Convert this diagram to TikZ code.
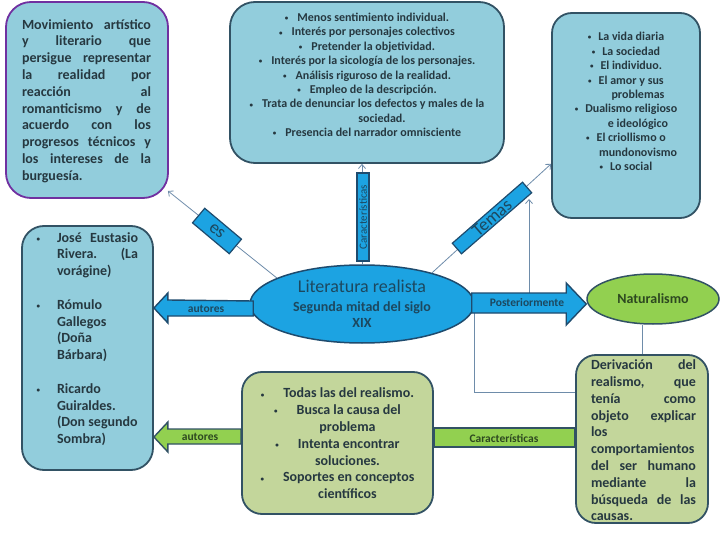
\documentclass[tikz,border=0pt]{standalone}
\usepackage{fontspec}
\setmainfont{Carlito}
\usetikzlibrary{shapes.geometric,arrows.meta,calc,backgrounds}
\definecolor{boxblue}{RGB}{146,205,220}
\definecolor{edgec}{RGB}{50,82,100}
\definecolor{brightblue}{RGB}{28,163,226}
\definecolor{litedge}{RGB}{30,75,110}
\definecolor{greenbar}{RGB}{146,208,80}
\definecolor{olivebox}{RGB}{195,214,155}
\definecolor{purp}{RGB}{112,48,160}
\definecolor{txtc}{RGB}{38,56,64}
\definecolor{tealtxt}{RGB}{28,72,95}
\definecolor{greentxt}{RGB}{45,72,32}
\definecolor{thinc}{RGB}{110,140,170}
\newcommand{\smbul}{\raisebox{0.9pt}{\fontsize{7}{7}\selectfont\textbullet}}
\newcommand{\mybul}[1]{\smbul\hspace{#1}}
\begin{document}
\begin{tikzpicture}[x=1pt,y=-1pt,
  box/.style={draw=edgec, line width=1.8pt, rounded corners=22pt, fill=boxblue, inner sep=0pt},
  gbox/.style={box, fill=olivebox, rounded corners=20pt},
  txtnode/.style={inner sep=0pt, text=txtc},
  tagbox/.style={fill=brightblue, draw=litedge, line width=1.2pt, inner sep=0pt, text=tealtxt},
  blockb/.style={fill=brightblue, draw=litedge, line width=1.4pt, line join=miter},
  blockg/.style={fill=greenbar, draw=edgec, line width=1.4pt, line join=miter},
  thinline/.style={draw=thinc, line width=0.8pt},
  thinarrow/.style={thinline, -{Straight Barb[length=4pt,width=7pt]}},
  lbl/.style={inner sep=0pt, font=\bfseries\fontsize{11.5}{13}\selectfont}
]
\useasboundingbox (0,0) rectangle (720,540);
\begin{pgfonlayer}{background}
\fill[white] (0,0) rectangle (720,540);
\end{pgfonlayer}

% boxes
\node[box, draw=purp, rounded corners=25pt, minimum width=162pt, minimum height=196pt] (B1) at (87,100) {};
\node[box, rounded corners=25pt, minimum width=274pt, minimum height=161pt] (B2) at (367,82.5) {};
\node[box, rounded corners=20pt, minimum width=148pt, minimum height=205pt] (B3) at (626,115.5) {};
\node[box, minimum width=131pt, minimum height=244pt] (L) at (87.5,348) {};
\node[gbox, minimum width=191pt, minimum height=142pt] (G) at (337.5,443) {};
\node[gbox, minimum width=132pt, minimum height=168pt] (D) at (642,439) {};

% central ellipse
\node[ellipse, draw=litedge, line width=1.5pt, fill=brightblue, minimum width=224pt, minimum height=78pt, inner sep=0pt, align=center, text=tealtxt, font=\bfseries\fontsize{14}{16}\selectfont] (lit) at (362,304)
  {{\mdseries\fontsize{18}{20}\selectfont Literatura realista}\\[3pt] Segunda mitad del siglo\\ XIX};
\node[ellipse, draw=edgec, line width=1.5pt, fill=greenbar, minimum width=132pt, minimum height=50pt, inner sep=0pt, text=greentxt, font=\bfseries\fontsize{14}{16}\selectfont] (Nat) at (653,299) {Naturalismo};

% thin connectors (under everything)
\coordinate (y392) at (0,392);
\coordinate (pstart) at (529,293);
\coordinate (pend) at (529,199);
\begin{pgfonlayer}{background}
\draw[thinline] (lit.east) -- (lit.east |- y392) -- (D.west |- y392);
\draw[thinline] (Nat.south -| D.north) -- (D.north);
\draw[thinarrow] (pstart) -- (pend);
\draw[thinarrow] (lit.163) -- ($(B1.south east)+(-1,-8)$);
\draw[thinarrow] (lit.north) -- (lit.north |- B2.south);
\draw[thinarrow] (lit.24) -- ($(B3.south west)+(0,-55)$);
\end{pgfonlayer}

% block arrows
\coordinate (yA) at (0,308);
\coordinate (yP) at (0,304);
\coordinate (yG) at (0,437);
\draw[blockb] (L.east |- yA) -- ++(14,-15) -- ++(0,7) -- ($(lit.west |- yA)+(4,-7)$) -- ++(0,15) -- ($(L.east |- yA)+(14,8)$) -- ++(0,7) -- cycle;
\draw[blockb] (Nat.west |- yP) -- ++(-20,-21) -- ++(0,10) -- ($(lit.east |- yP)+(-3,-11)$) -- ++(0,20) -- ($(Nat.west |- yP)+(-20,9)$) -- ++(0,12) -- cycle;
\draw[blockg] (L.east |- yG) -- ++(14,-15) -- ++(0,7) -- ($(G.west |- yG)+(0,-8)$) -- ++(0,15) -- ($(L.east |- yG)+(14,7)$) -- ++(0,8) -- cycle;
\coordinate (y428) at (0,428);
\coordinate (y447) at (0,447);
\draw[blockg] (G.east |- y428) rectangle (D.west |- y447);

% arrow labels
\node[lbl, text=tealtxt] (la1) at (206,309) {autores};
\node[lbl, text=tealtxt] (la2) at (527,303) {Posteriormente};
\node[lbl, text=greentxt] (la3) at (200,437) {autores};
\node[lbl, text=greentxt] (la4) at (504,438) {Características};

% tags on thin connectors
\node[tagbox, minimum width=48pt, minimum height=19pt, rotate=-40] (esL) at (217,231) {\fontsize{18}{20}\selectfont es};
\node[tagbox, minimum width=93pt, minimum height=14pt, rotate=41] (temasL) at (492,218) {\fontsize{18}{20}\selectfont Temas};
\node[tagbox, minimum width=88pt, minimum height=12pt, rotate=90] (carL) at (363,217) {\fontsize{11}{12}\selectfont Características};

% box texts
\node[txtnode, text width=129pt, align=justify, font=\bfseries\fontsize{14}{16.8}\selectfont] (B1t) at (86.5,101)
 {Movimiento artístico\linebreak y literario que\linebreak persigue representar\linebreak la realidad por\linebreak reacción al\linebreak romanticismo y de\linebreak acuerdo con los\linebreak progresos técnicos y\linebreak los intereses de la\linebreak burguesía.};

\node[txtnode, align=center, font=\bfseries\fontsize{12}{14.4}\selectfont] (B2t) at (367,75)
 {\mybul{9pt}Menos sentimiento individual.\\
  \mybul{9pt}Interés por personajes colectivos\\
  \mybul{9pt}Pretender la objetividad.\\
  \mybul{9pt}Interés por la sicología de los personajes.\\
  \mybul{9pt}Análisis riguroso de la realidad.\\
  \mybul{9pt}Empleo de la descripción.\\
  \mybul{9pt}Trata de denunciar los defectos y males de la\\
  \hspace*{30pt}sociedad.\\
  \mybul{9pt}Presencia del narrador omnisciente};

\node[txtnode, align=center, font=\bfseries\fontsize{12}{14.4}\selectfont] (B3t) at (626,101.5)
 {\mybul{7pt}La vida diaria\\
  \mybul{7pt}La sociedad\\
  \mybul{7pt}El individuo.\\
  \mybul{7pt}El amor y sus\\
  \hspace*{24pt}problemas\\
  \mybul{7pt}Dualismo religioso\\
  \hspace*{24pt}e ideológico\\
  \mybul{7pt}El criollismo o\\
  \hspace*{24pt}mundonovismo\\
  \mybul{7pt}Lo social};

\node[txtnode, text width=103pt, align=justify, font=\bfseries\fontsize{14}{16.8}\selectfont] (Lt) at (86.5,339)
 {\noindent\hangindent=22pt\hangafter=1\makebox[22pt][l]{\hspace{1.5pt}\smbul}José Eustasio\linebreak Rivera. (La\linebreak vorágine)\par
  \vspace{16.8pt}
  \noindent\hangindent=22pt\hangafter=1\makebox[22pt][l]{\hspace{1.5pt}\smbul}Rómulo\newline Gallegos\newline (Doña\newline Bárbara)\par
  \vspace{16.8pt}
  \noindent\hangindent=22pt\hangafter=1\makebox[22pt][l]{\hspace{1.5pt}\smbul}Ricardo\newline Guiraldes.\newline (Don segundo\newline Sombra)\par};

\node[txtnode, align=center, font=\bfseries\fontsize{14}{16.8}\selectfont] (Gt) at (337.5,443.5)
 {\mybul{19pt}Todas las del realismo.\\
  \mybul{19pt}Busca la causa del\\
  \hspace*{20pt}problema\\
  \mybul{19pt}Intenta encontrar\\
  \hspace*{20pt}soluciones.\\
  \mybul{19pt}Soportes en conceptos\\
  \hspace*{20pt}científicos};

\node[txtnode, text width=105pt, align=justify, font=\bfseries\fontsize{14}{16.8}\selectfont] (Dt) at (643.5,440.5)
 {Derivación del\linebreak realismo, que\linebreak tenía como\linebreak objeto explicar\linebreak los\newline comportamientos\newline del ser humano\linebreak mediante la\linebreak búsqueda de las\linebreak causas.};
\end{tikzpicture}
\end{document}
